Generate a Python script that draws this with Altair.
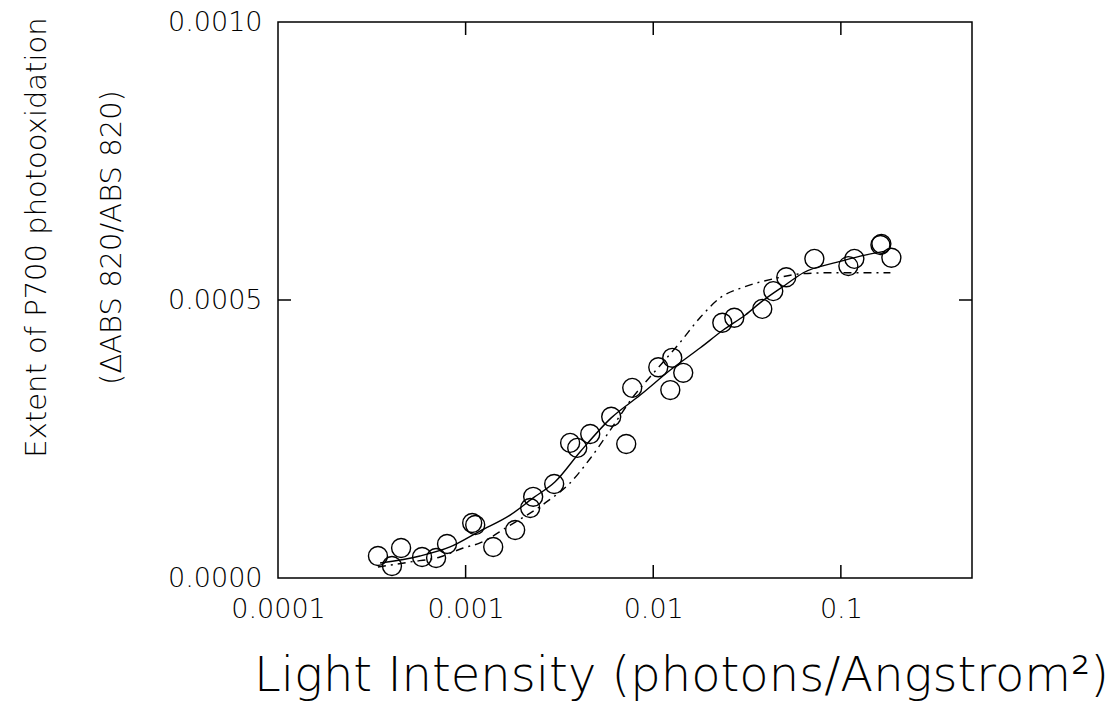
import altair as alt
import pandas as pd

# Measured data points (light intensity, extent of P700 photooxidation)
light = [0.000341, 0.000405, 0.000453, 0.000586, 0.000696, 0.000796, 0.001084, 0.001125,
         0.001403, 0.001837, 0.002209, 0.002291, 0.002965, 0.003606, 0.003934, 0.004615,
         0.005970, 0.007178, 0.007727, 0.010637, 0.012330, 0.012630, 0.014450, 0.023340,
         0.027040, 0.038120, 0.043630, 0.051170, 0.072240, 0.109650, 0.118030, 0.162500,
         0.164400, 0.185900]
extent = [0.0000396, 0.0000216, 0.0000540, 0.0000378, 0.0000360, 0.0000612, 0.0000989, 0.0000953,
          0.0000558, 0.0000863, 0.0001260, 0.0001460, 0.0001690, 0.0002430, 0.0002340, 0.0002590,
          0.0002900, 0.0002410, 0.0003420, 0.0003790, 0.0003380, 0.0003960, 0.0003690, 0.0004590,
          0.0004680, 0.0004840, 0.0005160, 0.0005410, 0.0005740, 0.0005610, 0.0005740, 0.0005990,
          0.0006010, 0.0005760]

# Solid fitted curve
solid_x = [0.000350, 0.000571, 0.000826, 0.001194, 0.001726, 0.002291, 0.003000, 0.004080,
           0.005970, 0.008530, 0.012330, 0.017830, 0.023610, 0.030960, 0.038120, 0.050580,
           0.063100, 0.095700, 0.127000, 0.172600]
solid_y = [0.0000270, 0.0000396, 0.0000558, 0.0000845, 0.0001130, 0.0001440, 0.0001730, 0.0002270,
           0.0002880, 0.0003290, 0.0003740, 0.0004140, 0.0004460, 0.0004730, 0.0004980, 0.0005270,
           0.0005490, 0.0005680, 0.0005790, 0.0005880]

# Dashed fitted curve
dash_x = [0.000341, 0.000506, 0.000731, 0.000970, 0.001194, 0.001664, 0.002655, 0.003606,
          0.004615, 0.006124, 0.007816, 0.009638, 0.013930, 0.017830, 0.022760, 0.030200,
          0.043630, 0.060800, 0.087900, 0.183700]
dash_y = [0.0000198, 0.0000288, 0.0000378, 0.0000540, 0.0000630, 0.0000917, 0.0001350, 0.0001710,
          0.0002150, 0.0002740, 0.0003260, 0.0003620, 0.0004240, 0.0004690, 0.0005040, 0.0005230,
          0.0005380, 0.0005470, 0.0005490, 0.0005490]

x_label_values = [0.0001, 0.001, 0.01, 0.1]
y_label_values = [0.0, 0.0005, 0.001]
x_tick_values = [0.001, 0.01, 0.1]
y_tick_values = [0.0005]

W, H = 694, 556
FONT = "DejaVu Sans"
TICK = 13

xs = alt.Scale(type="log", domain=[0.0001, 0.5], nice=False)
ys = alt.Scale(domain=[0, 0.001], nice=False)

x_axis = alt.Axis(
    values=x_label_values, format=".4~f", ticks=False, tickSize=0, domain=False, grid=False,
    labelFont=FONT, labelFontSize=27, labelFontWeight=200, labelColor="black", labelPadding=18,
    labelFlush=False, labelOverlap=False,
    title="Light Intensity (photons/Angstrom²)", titleFont=FONT, titleFontSize=48,
    titleFontWeight=200, titleColor="black", titleX=403, titleY=112,
    titleAlign="center", titleBaseline="alphabetic",
)
y_axis = alt.Axis(
    values=y_label_values, format=".4f", ticks=False, tickSize=0, domain=False, grid=False,
    labelFont=FONT, labelFontSize=27, labelFontWeight=200, labelColor="black", labelPadding=16,
    labelFlush=False, labelOverlap=False,
    title=["Extent of P700 photooxidation", "(ΔABS 820/ABS 820)"], titleFont=FONT,
    titleFontSize=29, titleFontWeight=200, titleColor="black", titleAngle=270,
    titleX=-233, titleY=215, titleAlign="center", titleBaseline="alphabetic",
    titleLineHeight=75,
)

pts_df = pd.DataFrame({"x": light, "y": extent})
solid_df = pd.DataFrame({"x": solid_x, "y": solid_y})
dash_df = pd.DataFrame({"x": dash_x, "y": dash_y})
xt_df = pd.DataFrame({"x": x_tick_values})
yt_df = pd.DataFrame({"y": y_tick_values})

X = alt.X("x:Q", scale=xs, axis=x_axis)
Y = alt.Y("y:Q", scale=ys, axis=y_axis)

points = alt.Chart(pts_df).mark_point(
    shape="circle", filled=False, size=360, color="black", strokeWidth=1.4, opacity=1
).encode(x=X, y=Y)

solid = alt.Chart(solid_df).mark_line(
    color="black", strokeWidth=1.4, interpolate="monotone"
).encode(x=X, y=Y)

dashed = alt.Chart(dash_df).mark_line(
    color="black", strokeWidth=1.4, interpolate="monotone", strokeDash=[8, 5, 2, 5]
).encode(x=X, y=Y)

tick_style = dict(color="black", strokeWidth=1.5)
xb = alt.Chart(xt_df).mark_rule(**tick_style).encode(x=X, y=alt.value(H), y2=alt.value(H - TICK))
xtop = alt.Chart(xt_df).mark_rule(**tick_style).encode(x=X, y=alt.value(0), y2=alt.value(TICK))
yl = alt.Chart(yt_df).mark_rule(**tick_style).encode(y=Y, x=alt.value(0), x2=alt.value(TICK))
yr = alt.Chart(yt_df).mark_rule(**tick_style).encode(y=Y, x=alt.value(W), x2=alt.value(W - TICK))

chart = alt.layer(dashed, solid, points, xb, xtop, yl, yr).properties(
    width=W, height=H,
    autosize=alt.AutoSizeParams(type="none"),
    padding={"left": 278, "top": 22, "right": 147, "bottom": 133},
    background="white",
).configure_view(stroke="black", strokeWidth=1.5)

chart.save("out.html", embed_options={"renderer": "svg", "actions": False})
